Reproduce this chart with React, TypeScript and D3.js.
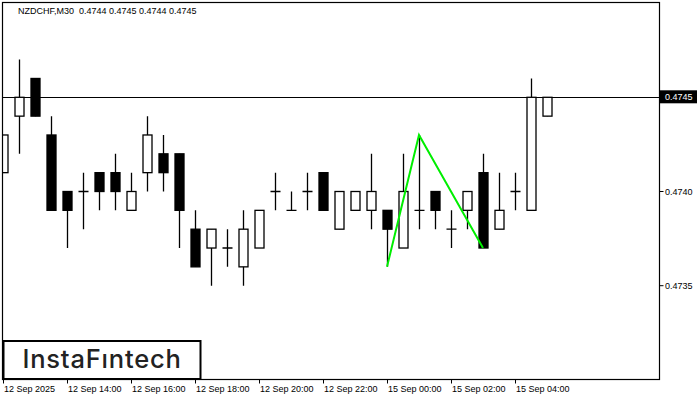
import React from "react";
import * as d3 from "d3";

const opens = [0.4741, 0.4744, 0.4746, 0.4743, 0.4740, 0.4740, 0.4741, 0.4741, 0.4739, 0.4741, 0.4742, 0.4742, 0.4738, 0.4737, 0.4737, 0.4736, 0.4737, 0.4740, 0.4739, 0.4740, 0.4741, 0.4738, 0.4739, 0.4739, 0.4739, 0.4737, 0.4739, 0.4740, 0.4738, 0.4739, 0.4741, 0.4738, 0.4740, 0.4739, 0.4744];
const highs = [0.4743, 0.4747, 0.4746, 0.4744, 0.4740, 0.4741, 0.4741, 0.4742, 0.4741, 0.4744, 0.4743, 0.4742, 0.4739, 0.4738, 0.4738, 0.4739, 0.4739, 0.4741, 0.4740, 0.4741, 0.4741, 0.4740, 0.4740, 0.4742, 0.4739, 0.4742, 0.4743, 0.4740, 0.4739, 0.4740, 0.4742, 0.4741, 0.4741, 0.4746, 0.4745];
const lows = [0.4741, 0.4742, 0.4744, 0.4739, 0.4737, 0.4738, 0.4739, 0.4739, 0.4739, 0.4740, 0.4740, 0.4737, 0.4736, 0.4735, 0.4736, 0.4735, 0.4737, 0.4739, 0.4739, 0.4739, 0.4739, 0.4738, 0.4739, 0.4738, 0.4736, 0.4737, 0.4738, 0.4738, 0.4737, 0.4738, 0.4737, 0.4738, 0.4739, 0.4739, 0.4744];
const closes = [0.4743, 0.4745, 0.4744, 0.4739, 0.4739, 0.4740, 0.4740, 0.4740, 0.4740, 0.4743, 0.4741, 0.4739, 0.4736, 0.4738, 0.4737, 0.4738, 0.4739, 0.4740, 0.4739, 0.4740, 0.4739, 0.4740, 0.4740, 0.4740, 0.4738, 0.4740, 0.4739, 0.4739, 0.4738, 0.4740, 0.4737, 0.4739, 0.4740, 0.4745, 0.4745];

const timeTickIndex = [0, 4, 8, 12, 16, 20, 24, 28, 32];
const timeTickLabels = ["12 Sep 2025", "12 Sep 14:00", "12 Sep 16:00", "12 Sep 18:00", "12 Sep 20:00", "12 Sep 22:00", "15 Sep 00:00", "15 Sep 02:00", "15 Sep 04:00"];
const priceTicks = [0.4735, 0.474];
const currentPrice = 0.4745;

const patternIndex = [24, 26, 30];
const patternPrice = [0.4736, 0.4743, 0.4737];

const title = "NZDCHF,M30  0.4744 0.4745 0.4744 0.4745";

const W = 700;
const H = 400;
const frame = { left: 2.5, top: 2.5, right: 659.5, bottom: 379.5 };

export default function App() {
  const x = d3.scaleLinear().domain([0, 1]).range([3, 19]);
  const y = d3.scaleLinear().domain([0.4735, 0.4745]).range([285.7, 97.3]);
  const bodyW = 9;
  const font = "'Liberation Sans', Arial, sans-serif";

  const line = d3
    .line<number>()
    .x((_, i) => x(patternIndex[i]))
    .y((d) => y(d));

  return (
    <svg
      width={W}
      height={H}
      style={{ position: "absolute", left: 0, top: 0, background: "#fff" }}
    >
      <defs>
        <clipPath id="plot">
          <rect x={frame.left} y={frame.top} width={frame.right - frame.left} height={frame.bottom - frame.top} />
        </clipPath>
      </defs>
      <rect width={W} height={H} fill="#fff" />

      <g clipPath="url(#plot)">
        <line x1={frame.left} x2={frame.right} y1={Math.round(y(currentPrice)) + 0.5} y2={Math.round(y(currentPrice)) + 0.5} stroke="#000" strokeWidth={1} />
        {opens.map((o, i) => {
          const c = closes[i];
          const cx = Math.round(x(i)) + 0.5;
          const top = y(Math.max(o, c));
          const bot = y(Math.min(o, c));
          const bull = c > o;
          const doji = c === o;
          return (
            <g key={i}>
              <line x1={cx} x2={cx} y1={y(highs[i])} y2={y(lows[i])} stroke="#000" strokeWidth={1.3} />
              {doji ? (
                <line x1={cx - bodyW / 2 - 0.5} x2={cx + bodyW / 2 + 0.5} y1={top} y2={top} stroke="#000" strokeWidth={1.3} />
              ) : (
                <rect
                  x={cx - bodyW / 2}
                  y={top}
                  width={bodyW}
                  height={bot - top}
                  fill={bull ? "#fff" : "#000"}
                  stroke="#000"
                  strokeWidth={1.3}
                />
              )}
            </g>
          );
        })}
        <path d={line(patternPrice) || ""} fill="none" stroke="#00ee00" strokeWidth={2} />
      </g>

      <rect x={frame.left} y={frame.top} width={frame.right - frame.left} height={frame.bottom - frame.top} fill="none" stroke="#000" strokeWidth={1.2} />

      <text x={18} y={14} fontFamily={font} fontSize={9} fill="#000">
        {title.replace("  ", "\u00a0\u00a0")}
      </text>

      {priceTicks.map((p) => (
        <g key={p}>
          <line x1={frame.right} x2={frame.right + 4} y1={y(p)} y2={y(p)} stroke="#000" />
          <text x={665} y={y(p)} dy="0.35em" fontFamily={font} fontSize={9} fill="#000">
            {d3.format(".4f")(p)}
          </text>
        </g>
      ))}
      <line x1={frame.right} x2={frame.right + 4} y1={y(currentPrice)} y2={y(currentPrice)} stroke="#000" />
      <rect x={660} y={y(currentPrice) - 7} width={37} height={13} fill="#000" />
      <text x={665} y={y(currentPrice)} dy="0.35em" fontFamily={font} fontSize={9} fill="#fff">
        {d3.format(".4f")(currentPrice)}
      </text>

      {timeTickIndex.map((idx, k) => (
        <g key={idx}>
          <line x1={Math.round(x(idx)) + 0.5} x2={Math.round(x(idx)) + 0.5} y1={frame.bottom} y2={frame.bottom + 4} stroke="#000" />
          <text x={x(idx) + 1} y={392} fontFamily={font} fontSize={9} fill="#000">
            {timeTickLabels[k]}
          </text>
        </g>
      ))}

      <rect x={3.5} y={341} width={197} height={38} fill="#fff" stroke="#000" strokeWidth={2} />
      <text x={102} y={368} textAnchor="middle" fontFamily="Inter, 'Noto Sans', sans-serif" fontWeight={500} fontSize={25.5} letterSpacing={0.8} fill="#222">
        InstaFıntech
      </text>
    </svg>
  );
}
